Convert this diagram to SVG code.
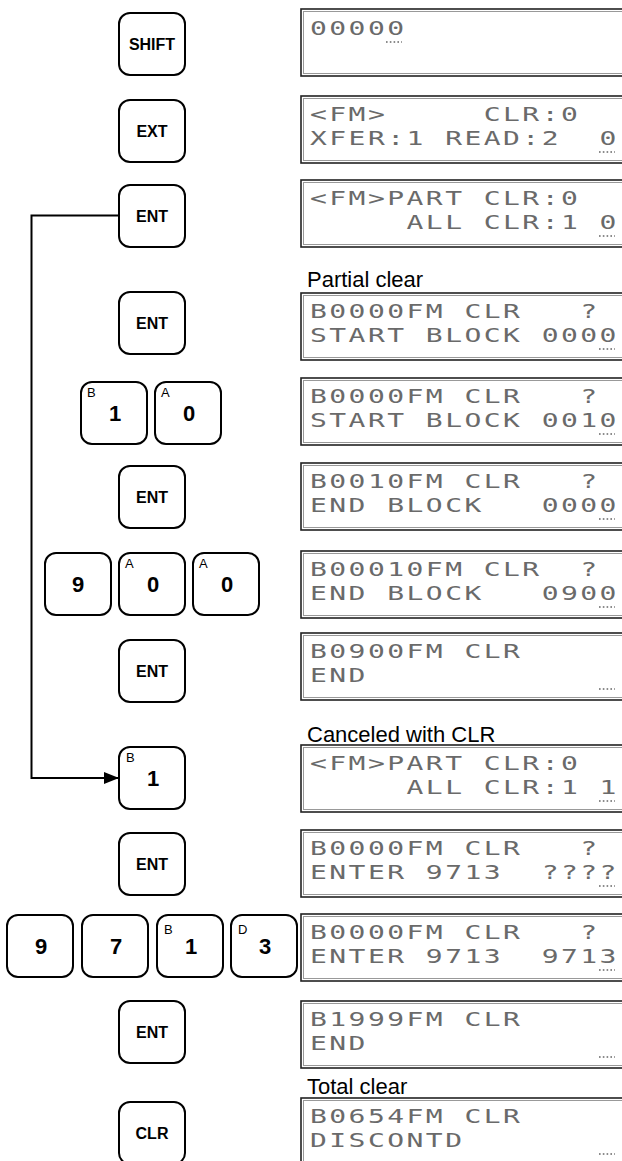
<svg xmlns="http://www.w3.org/2000/svg" width="622" height="1161" viewBox="0 0 622 1161">
<defs>
<style>
.bg{fill:#fff}
.key{fill:#fff;stroke:#000;stroke-width:2}
.kt{font-family:"Liberation Sans",Arial,sans-serif;font-weight:bold;font-size:16px;fill:#000;text-anchor:middle}
.kd{font-family:"Liberation Sans",Arial,sans-serif;font-weight:bold;font-size:22px;fill:#000;text-anchor:middle}
.ks{font-family:"Liberation Sans",Arial,sans-serif;font-size:13px;fill:#000}
.lcdbox{fill:#fff;stroke:#222;stroke-width:1.6}
.lcdin{fill:none;stroke:#999;stroke-width:1}
.lcd{font-family:"DejaVu Sans Mono","Liberation Mono",monospace;font-size:20px;fill:#6a6a6a;letter-spacing:1.75px;white-space:pre}
.cur{stroke:#666;stroke-width:1.6;stroke-dasharray:1.6 2.2;fill:none}
.lbl{font-family:"Liberation Sans",Arial,sans-serif;font-size:22px;fill:#000}
.conn{fill:none;stroke:#000;stroke-width:2}
</style>
<marker id="arr" viewBox="0 0 15 12" refX="15" refY="6" markerWidth="15" markerHeight="12" markerUnits="userSpaceOnUse" orient="auto">
<path d="M0,0 L15,6 L0,12 z" fill="#000"/>
</marker>
</defs>
<rect class="bg" x="0" y="0" width="622" height="1161"/>

<g id="connectors">
<path class="conn" d="M119,215.5 H31.5 V778 H119" marker-end="url(#arr)"/>
</g>

<!-- Keys -->
<g id="key-shift"><rect class="key" x="119" y="13" width="66" height="62" rx="11"/><text class="kt" x="152" y="50">SHIFT</text></g>
<g id="key-ext"><rect class="key" x="119" y="100" width="66" height="62" rx="11"/><text class="kt" x="152" y="137">EXT</text></g>
<g id="key-ent1"><rect class="key" x="119" y="185" width="66" height="62" rx="11"/><text class="kt" x="152" y="222">ENT</text></g>
<g id="key-ent2"><rect class="key" x="119" y="292" width="66" height="62" rx="11"/><text class="kt" x="152" y="329">ENT</text></g>
<g id="key-1a"><rect class="key" x="81" y="382" width="66" height="62" rx="11"/><text class="ks" x="87" y="397">B</text><text class="kd" x="115" y="421">1</text></g>
<g id="key-0a"><rect class="key" x="155" y="382" width="66" height="62" rx="11"/><text class="ks" x="161" y="397">A</text><text class="kd" x="189" y="421">0</text></g>
<g id="key-ent3"><rect class="key" x="119" y="466" width="66" height="62" rx="11"/><text class="kt" x="152" y="503">ENT</text></g>
<g id="key-9a"><rect class="key" x="45" y="553" width="66" height="62" rx="11"/><text class="kd" x="78" y="592">9</text></g>
<g id="key-0b"><rect class="key" x="119" y="553" width="66" height="62" rx="11"/><text class="ks" x="125" y="568">A</text><text class="kd" x="153" y="592">0</text></g>
<g id="key-0c"><rect class="key" x="193" y="553" width="66" height="62" rx="11"/><text class="ks" x="199" y="568">A</text><text class="kd" x="227" y="592">0</text></g>
<g id="key-ent4"><rect class="key" x="119" y="640" width="66" height="62" rx="11"/><text class="kt" x="152" y="677">ENT</text></g>
<g id="key-1b"><rect class="key" x="119" y="747" width="66" height="62" rx="11"/><text class="ks" x="126" y="762">B</text><text class="kd" x="153" y="786">1</text></g>
<g id="key-ent5"><rect class="key" x="119" y="833" width="66" height="62" rx="11"/><text class="kt" x="152" y="870">ENT</text></g>
<g id="key-9b"><rect class="key" x="7" y="915" width="66" height="62" rx="11"/><text class="kd" x="41" y="954">9</text></g>
<g id="key-7"><rect class="key" x="82" y="915" width="66" height="62" rx="11"/><text class="kd" x="116" y="954">7</text></g>
<g id="key-1c"><rect class="key" x="157" y="915" width="66" height="62" rx="11"/><text class="ks" x="164" y="934">B</text><text class="kd" x="191" y="954">1</text></g>
<g id="key-3"><rect class="key" x="231" y="915" width="66" height="62" rx="11"/><text class="ks" x="238" y="934">D</text><text class="kd" x="265" y="954">3</text></g>
<g id="key-ent6"><rect class="key" x="119" y="1001" width="66" height="62" rx="11"/><text class="kt" x="152" y="1038">ENT</text></g>
<g id="key-clr"><rect class="key" x="119" y="1102" width="66" height="62" rx="11"/><text class="kt" x="152" y="1139">CLR</text></g>

<!-- Labels -->
<text class="lbl" x="307" y="287">Partial clear</text>
<text class="lbl" x="307" y="742">Canceled with CLR</text>
<text class="lbl" x="307" y="1094">Total clear</text>

<!-- Displays -->
<g id="disp1"><rect class="lcdbox" x="301" y="9" width="340" height="67"/><rect class="lcdin" x="303.5" y="11.5" width="340" height="62"/>
<text class="lcd" transform="matrix(1.4 0 0 1 310 0)" x="0" y="35">00000</text>
<line class="cur" x1="386" y1="42" x2="402" y2="42"/></g>

<g id="disp2"><rect class="lcdbox" x="301" y="96" width="340" height="67"/><rect class="lcdin" x="303.5" y="98.5" width="340" height="62"/>
<text class="lcd" transform="matrix(1.4 0 0 1 310 0)" x="0" y="121">&lt;FM&gt;     CLR:0</text>
<text class="lcd" transform="matrix(1.4 0 0 1 310 0)" x="0" y="145">XFER:1 READ:2  0</text>
<line class="cur" x1="599" y1="152" x2="615" y2="152"/></g>

<g id="disp3"><rect class="lcdbox" x="301" y="180" width="340" height="67"/><rect class="lcdin" x="303.5" y="182.5" width="340" height="62"/>
<text class="lcd" transform="matrix(1.4 0 0 1 310 0)" x="0" y="205">&lt;FM&gt;PART CLR:0</text>
<text class="lcd" transform="matrix(1.4 0 0 1 310 0)" x="0" y="229">     ALL CLR:1 0</text>
<line class="cur" x1="599" y1="236" x2="615" y2="236"/></g>

<g id="disp4"><rect class="lcdbox" x="301" y="293" width="340" height="67"/><rect class="lcdin" x="303.5" y="295.5" width="340" height="62"/>
<text class="lcd" transform="matrix(1.4 0 0 1 310 0)" x="0" y="318">B0000FM CLR   ?</text>
<text class="lcd" transform="matrix(1.4 0 0 1 310 0)" x="0" y="342">START BLOCK 0000</text>
<line class="cur" x1="599" y1="349" x2="615" y2="349"/></g>

<g id="disp5"><rect class="lcdbox" x="301" y="378" width="340" height="67"/><rect class="lcdin" x="303.5" y="380.5" width="340" height="62"/>
<text class="lcd" transform="matrix(1.4 0 0 1 310 0)" x="0" y="403">B0000FM CLR   ?</text>
<text class="lcd" transform="matrix(1.4 0 0 1 310 0)" x="0" y="427">START BLOCK 0010</text>
<line class="cur" x1="599" y1="434" x2="615" y2="434"/></g>

<g id="disp6"><rect class="lcdbox" x="301" y="463" width="340" height="67"/><rect class="lcdin" x="303.5" y="465.5" width="340" height="62"/>
<text class="lcd" transform="matrix(1.4 0 0 1 310 0)" x="0" y="488">B0010FM CLR   ?</text>
<text class="lcd" transform="matrix(1.4 0 0 1 310 0)" x="0" y="512">END BLOCK   0000</text>
<line class="cur" x1="599" y1="519" x2="615" y2="519"/></g>

<g id="disp7"><rect class="lcdbox" x="301" y="551" width="340" height="67"/><rect class="lcdin" x="303.5" y="553.5" width="340" height="62"/>
<text class="lcd" transform="matrix(1.4 0 0 1 310 0)" x="0" y="576">B00010FM CLR  ?</text>
<text class="lcd" transform="matrix(1.4 0 0 1 310 0)" x="0" y="600">END BLOCK   0900</text>
<line class="cur" x1="599" y1="607" x2="615" y2="607"/></g>

<g id="disp8"><rect class="lcdbox" x="301" y="633" width="340" height="67"/><rect class="lcdin" x="303.5" y="635.5" width="340" height="62"/>
<text class="lcd" transform="matrix(1.4 0 0 1 310 0)" x="0" y="658">B0900FM CLR</text>
<text class="lcd" transform="matrix(1.4 0 0 1 310 0)" x="0" y="682">END</text>
<line class="cur" x1="599" y1="689" x2="615" y2="689"/></g>

<g id="disp9"><rect class="lcdbox" x="301" y="745" width="340" height="67"/><rect class="lcdin" x="303.5" y="747.5" width="340" height="62"/>
<text class="lcd" transform="matrix(1.4 0 0 1 310 0)" x="0" y="770">&lt;FM&gt;PART CLR:0</text>
<text class="lcd" transform="matrix(1.4 0 0 1 310 0)" x="0" y="794">     ALL CLR:1 1</text>
<line class="cur" x1="599" y1="801" x2="615" y2="801"/></g>

<g id="disp10"><rect class="lcdbox" x="301" y="830" width="340" height="67"/><rect class="lcdin" x="303.5" y="832.5" width="340" height="62"/>
<text class="lcd" transform="matrix(1.4 0 0 1 310 0)" x="0" y="855">B0000FM CLR   ?</text>
<text class="lcd" transform="matrix(1.4 0 0 1 310 0)" x="0" y="879">ENTER 9713  ????</text>
<line class="cur" x1="599" y1="886" x2="615" y2="886"/></g>

<g id="disp11"><rect class="lcdbox" x="301" y="914" width="340" height="67"/><rect class="lcdin" x="303.5" y="916.5" width="340" height="62"/>
<text class="lcd" transform="matrix(1.4 0 0 1 310 0)" x="0" y="939">B0000FM CLR   ?</text>
<text class="lcd" transform="matrix(1.4 0 0 1 310 0)" x="0" y="963">ENTER 9713  9713</text>
<line class="cur" x1="599" y1="970" x2="615" y2="970"/></g>

<g id="disp12"><rect class="lcdbox" x="301" y="1001" width="340" height="67"/><rect class="lcdin" x="303.5" y="1003.5" width="340" height="62"/>
<text class="lcd" transform="matrix(1.4 0 0 1 310 0)" x="0" y="1026">B1999FM CLR</text>
<text class="lcd" transform="matrix(1.4 0 0 1 310 0)" x="0" y="1050">END</text>
<line class="cur" x1="599" y1="1057" x2="615" y2="1057"/></g>

<g id="disp13"><rect class="lcdbox" x="301" y="1098" width="340" height="67"/><rect class="lcdin" x="303.5" y="1100.5" width="340" height="62"/>
<text class="lcd" transform="matrix(1.4 0 0 1 310 0)" x="0" y="1123">B0654FM CLR</text>
<text class="lcd" transform="matrix(1.4 0 0 1 310 0)" x="0" y="1147">DISCONTD</text>
<line class="cur" x1="599" y1="1154" x2="615" y2="1154"/></g>
</svg>
